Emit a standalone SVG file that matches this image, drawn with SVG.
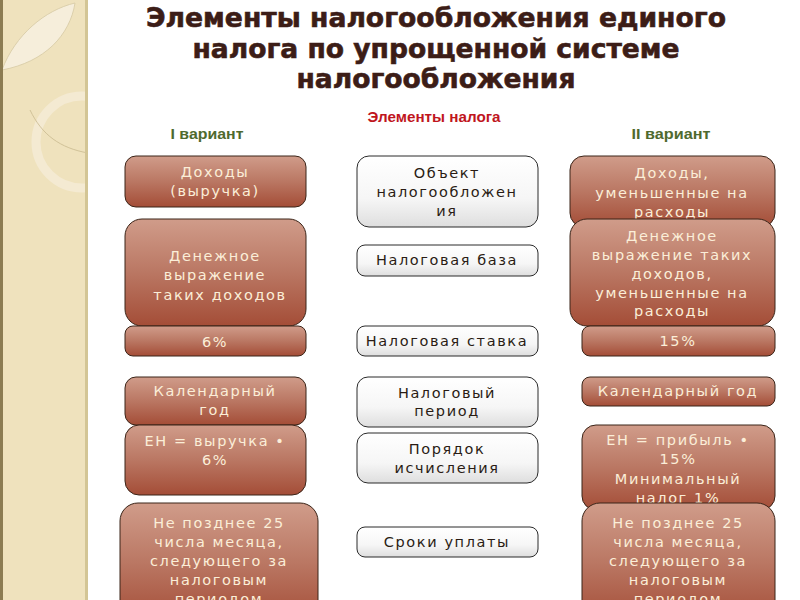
<svg xmlns="http://www.w3.org/2000/svg" width="800" height="600" viewBox="0 0 800 600">
<defs>
<linearGradient id="brown" x1="0" y1="0" x2="0" y2="1">
<stop offset="0" stop-color="#d09c8a"/>
<stop offset="0.5" stop-color="#ba7763"/>
<stop offset="1" stop-color="#a44d37"/>
</linearGradient>
<linearGradient id="white" x1="0" y1="0" x2="0" y2="1">
<stop offset="0" stop-color="#ffffff"/>
<stop offset="0.6" stop-color="#f6f6f6"/>
<stop offset="1" stop-color="#dedede"/>
</linearGradient>
<clipPath id="bandclip"><rect x="0" y="0" width="86" height="600"/></clipPath>
<style>
.b{fill:url(#brown);stroke:#3a2418;stroke-width:1}
.w{fill:url(#white);stroke:#2a2a2a;stroke-width:1}
.bt{font-family:"DejaVu Sans",Verdana,sans-serif;font-size:14.5px;fill:#fbeed8;text-anchor:middle;letter-spacing:1.6px}
.wt{font-family:"DejaVu Sans",Verdana,sans-serif;font-size:14.5px;fill:#2a1c14;text-anchor:middle;letter-spacing:1.6px}
.title{font-family:"DejaVu Sans",Verdana,sans-serif;font-weight:bold;font-size:26px;fill:#3c1d17;text-anchor:middle;stroke:#3c1d17;stroke-width:0.6px}
.var{font-family:"Liberation Sans",Arial,sans-serif;font-weight:bold;font-size:14px;fill:#4f6a2e;text-anchor:middle}
.el{font-family:"Liberation Sans",Arial,sans-serif;font-weight:bold;font-size:14px;fill:#c0161e;text-anchor:middle}
</style>
</defs>
<rect x="0" y="0" width="800" height="600" fill="#ffffff"/>
<g id="band">
<rect x="0" y="0" width="88" height="600" fill="#efe2bd"/>
<g clip-path="url(#bandclip)">
<path d="M2,70 C15,35 45,10 75,3 C70,35 45,62 2,70 Z" fill="#f6eedb" stroke="#d6c9a3" stroke-width="0.8"/>
<circle cx="82" cy="142" r="46" fill="none" stroke="#f4ead2" stroke-width="9"/>
<path d="M30,110 C42,135 60,148 88,153" fill="none" stroke="#c8b98e" stroke-width="0.8"/>
</g>
<rect x="0" y="0" width="3" height="600" fill="#8c7c52"/>
<rect x="85" y="0" width="3" height="600" fill="#d3c595"/>
</g>
<g id="title">
<text class="title" x="436" y="27" textLength="580" lengthAdjust="spacingAndGlyphs">Элементы налогообложения единого</text>
<text class="title" x="436" y="58" textLength="487" lengthAdjust="spacingAndGlyphs">налога по упрощенной системе</text>
<text class="title" x="436" y="88" textLength="279" lengthAdjust="spacingAndGlyphs">налогообложения</text>
</g>
<g id="headers">
<text class="el" x="434" y="122" textLength="133" lengthAdjust="spacingAndGlyphs">Элементы налога</text>
<text class="var" x="207" y="139" textLength="73" lengthAdjust="spacingAndGlyphs">I вариант</text>
<text class="var" x="671" y="139" textLength="79" lengthAdjust="spacingAndGlyphs">II вариант</text>
</g>
<g id="left-1"><rect class="b" x="125" y="156" width="181" height="51" rx="11"/>
<text class="bt" x="215" y="177">Доходы</text><text class="bt" x="215" y="196">(выручка)</text></g>
<g id="left-2"><rect class="b" x="125" y="219" width="181" height="107" rx="17"/>
<text class="bt" x="215" y="261">Денежное</text><text class="bt" x="215" y="280">выражение</text><text class="bt" x="220" y="300">таких доходов</text></g>
<g id="left-3"><rect class="b" x="125" y="326" width="181" height="30" rx="8"/>
<text class="bt" x="215" y="347">6%</text></g>
<g id="left-4"><rect class="b" x="125" y="377" width="181" height="48" rx="11"/>
<text class="bt" x="215" y="396">Календарный</text><text class="bt" x="215" y="415">год</text></g>
<g id="left-5"><rect class="b" x="125" y="425" width="181" height="70" rx="14"/>
<text class="bt" x="215" y="446">ЕН = выручка •</text><text class="bt" x="215" y="465">6%</text></g>
<g id="left-6"><rect class="b" x="120" y="503" width="198" height="120" rx="18"/>
<text class="bt" x="219" y="528">Не позднее 25</text><text class="bt" x="219" y="547">числа месяца,</text><text class="bt" x="219" y="566">следующего за</text><text class="bt" x="219" y="585">налоговым</text><text class="bt" x="219" y="604">периодом</text></g>
<g id="mid-1"><rect class="w" x="357" y="156" width="181" height="71" rx="12"/>
<text class="wt" x="447" y="178">Объект</text><text class="wt" x="447" y="197">налогообложен</text><text class="wt" x="447" y="216">ия</text></g>
<g id="mid-2"><rect class="w" x="357" y="245" width="181" height="31" rx="8"/>
<text class="wt" x="447" y="265">Налоговая база</text></g>
<g id="mid-3"><rect class="w" x="357" y="326" width="181" height="30" rx="8"/>
<text class="wt" x="447" y="346">Налоговая ставка</text></g>
<g id="mid-4"><rect class="w" x="357" y="377" width="181" height="50" rx="11"/>
<text class="wt" x="447" y="398">Налоговый</text><text class="wt" x="447" y="416">период</text></g>
<g id="mid-5"><rect class="w" x="357" y="433" width="181" height="50" rx="11"/>
<text class="wt" x="447" y="454">Порядок</text><text class="wt" x="447" y="473">исчисления</text></g>
<g id="mid-6"><rect class="w" x="357" y="527" width="181" height="30" rx="8"/>
<text class="wt" x="447" y="547">Сроки уплаты</text></g>
<g id="right-1"><rect class="b" x="570" y="156" width="205" height="71" rx="14"/>
<text class="bt" x="672" y="178">Доходы,</text><text class="bt" x="672" y="198">уменьшенные на</text><text class="bt" x="672" y="217">расходы</text></g>
<g id="right-2"><rect class="b" x="570" y="219" width="205" height="107" rx="17"/>
<text class="bt" x="672" y="241">Денежное</text><text class="bt" x="672" y="260">выражение таких</text><text class="bt" x="672" y="279">доходов,</text><text class="bt" x="672" y="298">уменьшенные на</text><text class="bt" x="672" y="316">расходы</text></g>
<g id="right-3"><rect class="b" x="582" y="326" width="193" height="30" rx="8"/>
<text class="bt" x="678" y="346">15%</text></g>
<g id="right-4"><rect class="b" x="582" y="377" width="193" height="29" rx="8"/>
<text class="bt" x="678" y="396">Календарный год</text></g>
<g id="right-5"><rect class="b" x="582" y="425" width="193" height="85" rx="14"/>
<text class="bt" x="678" y="445">ЕН = прибыль •</text><text class="bt" x="678" y="464">15%</text><text class="bt" x="678" y="484">Минимальный</text><text class="bt" x="678" y="503">налог 1%</text></g>
<g id="right-6"><rect class="b" x="582" y="503" width="193" height="120" rx="18"/>
<text class="bt" x="678" y="528">Не позднее 25</text><text class="bt" x="678" y="547">числа месяца,</text><text class="bt" x="678" y="566">следующего за</text><text class="bt" x="678" y="585">налоговым</text><text class="bt" x="678" y="604">периодом</text></g>
</svg>
